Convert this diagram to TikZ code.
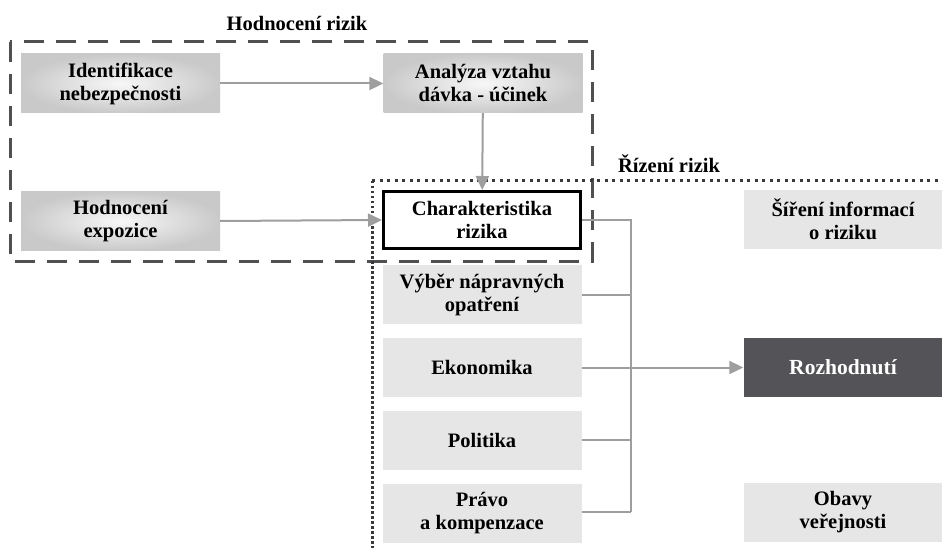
\documentclass[tikz,border=0pt]{standalone}
\usepackage{fontspec}
\setmainfont{Liberation Serif}
\usetikzlibrary{arrows.meta}
\definecolor{boxlight}{HTML}{E6E6E7}
\definecolor{boxdark}{HTML}{545357}
\definecolor{conngray}{HTML}{9E9E9E}
\definecolor{dashgray}{HTML}{505052}
\definecolor{dotgray}{HTML}{3A3A3C}
\tikzset{
  txt/.style={font=\fontsize{20.5}{23}\selectfont\bfseries, align=center, text=black},
  gradbox/.style={txt, inner sep=0pt, minimum width=199pt, minimum height=59pt, inner color=gray!6, outer color=gray!42},
  lightbox/.style={txt, inner sep=0pt, fill=boxlight, minimum width=199pt, minimum height=59pt},
  darkbox/.style={txt, inner sep=0pt, fill=boxdark, text=white, minimum width=199pt, minimum height=59pt, font=\fontsize{21.5}{24}\selectfont\bfseries},
  keybox/.style={txt, inner sep=0pt, fill=white, draw=black, line width=3pt, minimum width=197pt, minimum height=57pt},
  conn/.style={draw=conngray, line width=2pt},
  arr/.style={conn, -{Triangle[length=14pt,width=13pt]}},
  hdash/.style={draw=dashgray, line width=3pt, dash pattern=on 20pt off 12pt},
  hdot/.style={draw=dotgray, line width=3pt, dash pattern=on 3pt off 4.5pt},
  vdot/.style={draw=dotgray, line width=3pt, dash pattern=on 2.5pt off 2.5pt},
  lbl/.style={font=\fontsize{20.5}{23}\selectfont\bfseries, text=black}
}
\begin{document}
\begin{tikzpicture}[x=1pt,y=-1pt]
\useasboundingbox (0,0) rectangle (942,548);
% frames
\draw[hdash] (10,42) rectangle (592,261);
\draw[hdot] (372,181) -- (942,181);
\draw[vdot] (372,181) -- (372,548);
\node[lbl] (t1) at (297,23) {Hodnocení rizik};
\node[lbl] (t2) at (669,164) {Řízení rizik};
% boxes
\node[gradbox] (ident) at (120.5,83.5) {Identifikace\\nebezpečnosti};
\node[gradbox] (anal) at (483,83.5) {Analýza vztahu\\dávka - účinek};
\node[gradbox] (expo) at (120.5,221) {Hodnocení\\expozice};
\node[keybox] (char) at (482,220) {Charakteristika\\rizika};
\node[lightbox] (vyber) at (482,294.5) {Výběr nápravných\\opatření};
\node[lightbox] (ekon) at (482,367.5) {Ekonomika};
\node[lightbox] (polit) at (482,440) {Politika};
\node[lightbox] (pravo) at (482,513) {Právo\\a kompenzace};
\node[lightbox] (sir) at (843,219.5) {Šíření informací\\o riziku};
\node[darkbox] (rozh) at (843,367.5) {Rozhodnutí};
\node[lightbox] (obavy) at (843,512.5) {Obavy\\veřejnosti};
% connectors
\draw[arr] (ident) -- (anal);
\draw[arr] (anal) -- (char);
\draw[arr] (expo.east) -- (char.west);
\coordinate (bus) at (631,512);
\draw[conn] (char.east) -| (bus);
\draw[conn] (pravo.east |- bus) -- (bus);
\draw[conn] (vyber.east) -- (vyber.east -| bus);
\draw[conn] (polit.east) -- (polit.east -| bus);
\draw[arr] (ekon.east) -- (rozh.west);
\end{tikzpicture}
\end{document}
